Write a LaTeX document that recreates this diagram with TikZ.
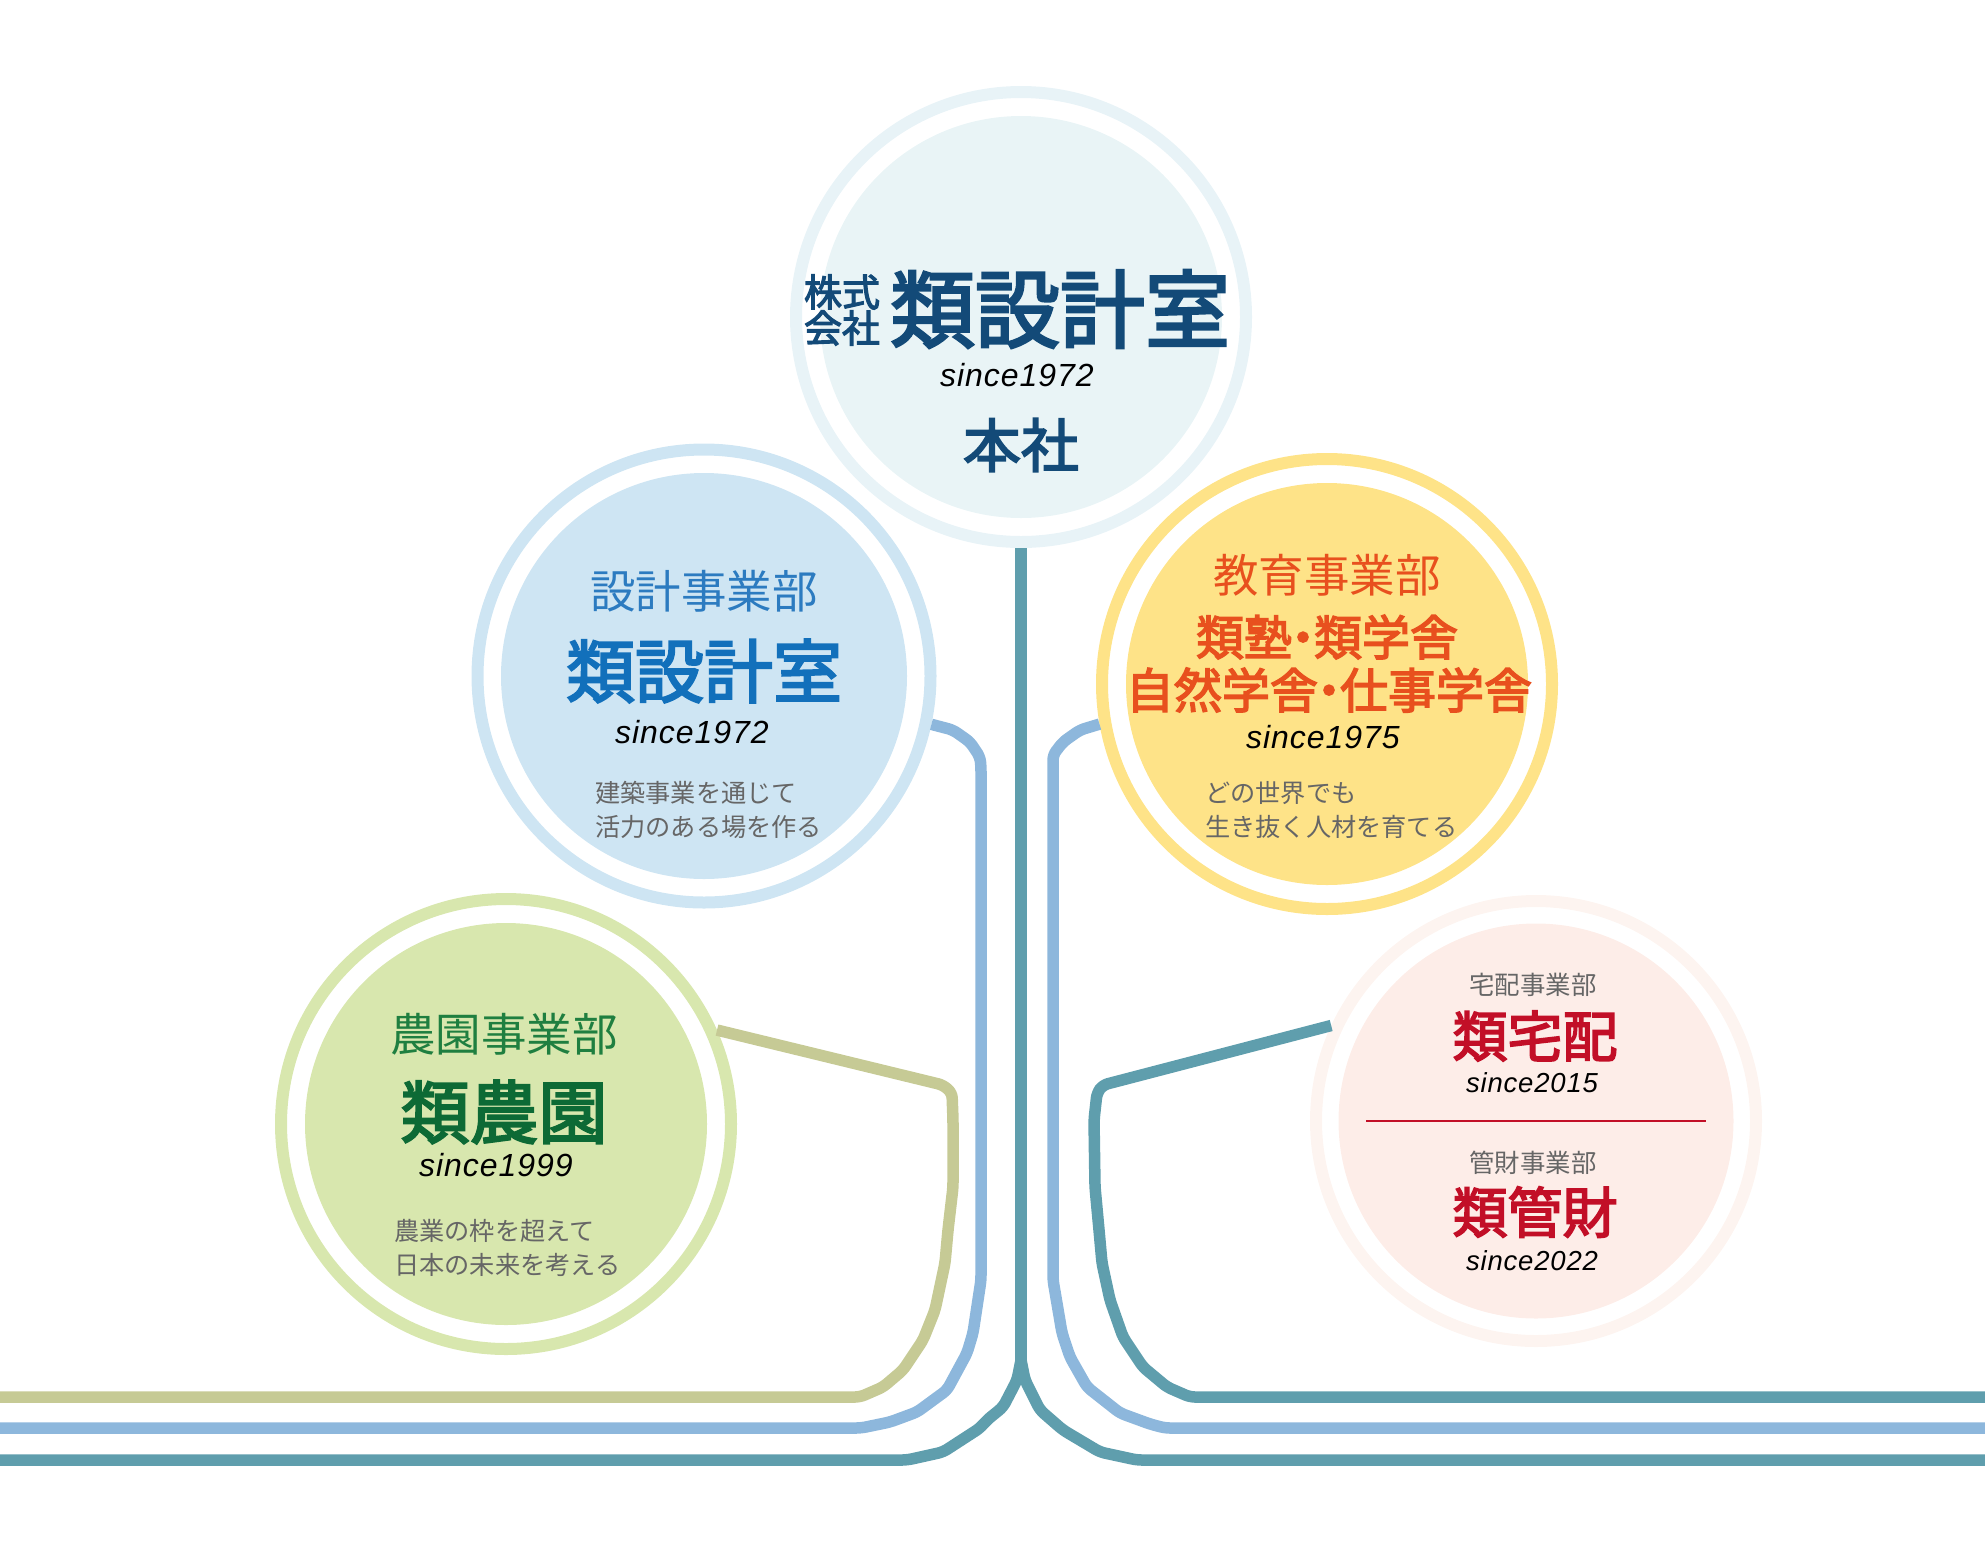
\documentclass[tikz,border=0pt]{standalone}
\usepackage{fontspec}
\setmainfont{Noto Sans CJK JP}
\newfontfamily\titlefont[FakeBold=3]{Noto Sans CJK JP}
\newfontfamily\latinfont[LetterSpace=3]{Liberation Sans}

\definecolor{tealline}{HTML}{5F9EAD}
\definecolor{blueline}{HTML}{8DB7DC}
\definecolor{oliveline}{HTML}{C6CA95}
\definecolor{hqring}{HTML}{E8F3F7}
\definecolor{hqfill}{HTML}{E9F4F6}
\definecolor{hqtext}{HTML}{134A78}
\definecolor{designfill}{HTML}{CEE5F3}
\definecolor{designlabel}{HTML}{2C7BC0}
\definecolor{designtext}{HTML}{1270BB}
\definecolor{edufill}{HTML}{FEE388}
\definecolor{edutext}{HTML}{E8501E}
\definecolor{agrifill}{HTML}{D8E7AE}
\definecolor{agrilabel}{HTML}{1F7F40}
\definecolor{agritext}{HTML}{0D6A35}
\definecolor{deliveryring}{HTML}{FDF4F0}
\definecolor{deliveryfill}{HTML}{FDEDE8}
\definecolor{deliverytext}{HTML}{C20F27}
\definecolor{greytext}{HTML}{666666}

\newcommand{\fsize}[1]{\fontsize{#1}{#1}\selectfont}
\newcommand{\ndot}{\hspace{-.27em}・\hspace{-.27em}}

\tikzset{
    ring/.style={circle,draw=#1,line width=12pt,minimum size=450pt,inner sep=0pt},
    disc/.style={circle,fill=#1,minimum size=402pt,inner sep=0pt},
    link/.style={line width=11.5pt,rounded corners=5pt,draw=#1},
    since/.style={inner sep=0pt,font=\latinfont\itshape\fsize{#1}},
    deptname/.style={inner sep=0pt,font=\fsize{45.5},text=#1},
    brandname/.style={inner sep=0pt,font=\titlefont\fsize{69},text=#1},
    note/.style={inner sep=0pt,anchor=west,font=\fsize{25.2},text=greytext},
    smallname/.style={inner sep=0pt,font=\fsize{25.4},text=greytext},
    smallbrand/.style={inner sep=0pt,font=\titlefont\fsize{55},text=deliverytext}
}

\begin{document}
\begin{tikzpicture}[x=1pt,y=-1pt]
    \useasboundingbox (0,0) rectangle (1985,1540);

    % Cerchi esterni
    \node[ring=hqring] (hqring) at (1021,317) {};
    \node[ring=designfill,minimum size=453pt] (designring) at (704,676) {};
    \node[ring=edufill] (eduring) at (1327,684) {};
    \node[ring=agrifill] (agriring) at (506,1124) {};
    \node[ring=deliveryring,minimum size=440pt] (deliveryring) at (1536,1121) {};

    % Estremi liberi delle linee
    \coordinate (fork) at (1021,1360);
    \coordinate (tealleft) at (0,1460);
    \coordinate (tealright) at (1985,1460);
    \coordinate (blueleft) at (0,1428);
    \coordinate (blueright) at (1985,1428);
    \coordinate (oliveleft) at (0,1397);
    \coordinate (teallow) at (1985,1397);

    % Tronco centrale
    \draw[link=tealline] (fork) -- (1017,1380) -- (1003,1407) -- (987,1420) -- (980,1428) -- (943,1452) -- (907,1460) -- (tealleft);
    \draw[link=tealline] (fork) -- (1025,1380) -- (1040,1410) -- (1063,1430) -- (1100,1452) -- (1137,1460) -- (tealright);
    \draw[link=tealline,line width=12pt] (hqring.south) -- (fork);

    % Linee azzurre
    \draw[link=blueline] (designring.-12) -- (953,730) -- (970,742) -- (980,757) -- (981,767) -- (981,1280) -- (973,1333) -- (967,1353) -- (947,1390) -- (917,1412) -- (890,1422) -- (861,1428) -- (blueleft);
    \draw[link=blueline] (eduring.190.5) -- (1080,730) -- (1063,742) -- (1053,755) -- (1053,767) -- (1053,1280) -- (1062,1333) -- (1070,1357) -- (1087,1387) -- (1120,1413) -- (1150,1424) -- (1165,1428) -- (blueright);

    % Linea oliva
    \draw[link=oliveline] (agriring.24.2) -- (943,1085) -- (952,1093) -- (953,1120) -- (953,1187) -- (948,1230) -- (945,1263) -- (935,1310) -- (923,1340) -- (903,1370) -- (883,1387) -- (860,1397) -- (oliveleft);

    % Linea verso il cerchio rosa
    \draw[link=tealline] (deliveryring.155.4) -- (1103,1085) -- (1097,1093) -- (1094,1120) -- (1095,1187) -- (1099,1230) -- (1102,1263) -- (1110,1300) -- (1123,1337) -- (1143,1367) -- (1167,1387) -- (1190,1397) -- (teallow);

    % Cerchi interni
    \node[disc=hqfill] (hqdisc) at (1021,317) {};
    \node[disc=designfill,minimum size=406pt] (designdisc) at (704,676) {};
    \node[disc=edufill] (edudisc) at (1327,684) {};
    \node[disc=agrifill] (agridisc) at (506,1124) {};
    \node[disc=deliveryfill,minimum size=395pt] (deliverydisc) at (1536,1121) {};

    % Sede centrale
    \node[inner sep=0pt,text=hqtext,font=\titlefont\fsize{38}] (hqform) at (842,292) {株式};
    \node[inner sep=0pt,text=hqtext,font=\titlefont\fsize{38}] (hqformb) at (842,328) {会社};
    \node[inner sep=0pt,text=hqtext,font=\titlefont\fsize{85}] (hqname) at (1060,309) {類設計室};
    \node[since=32,text=black] (hqsince) at (1017,375) {since1972};
    \node[inner sep=0pt,text=hqtext,font=\titlefont\fsize{58}] (hqoffice) at (1021,445) {本社};

    % Progettazione
    \node[deptname=designlabel] (designdept) at (704,591) {設計事業部};
    \node[brandname=designtext] (designname) at (704,671) {類設計室};
    \node[since=32,text=black] (designsince) at (692,732) {since1972};
    \node[note] (designnotea) at (595,793) {建築事業を通じて};
    \node[note] (designnoteb) at (595,827) {活力のある場を作る};

    % Istruzione
    \node[deptname=edutext] (edudept) at (1327,575) {教育事業部};
    \node[inner sep=0pt,text=edutext,font=\titlefont\fsize{48}] (eduname) at (1327,637) {類塾\ndot 類学舎};
    \node[inner sep=0pt,text=edutext,font=\titlefont\fsize{48}] (edunameb) at (1329,690) {自然学舎\ndot 仕事学舎};
    \node[since=32,text=black] (edusince) at (1323,737) {since1975};
    \node[note] (edunotea) at (1205,793) {どの世界でも};
    \node[note] (edunoteb) at (1205,827) {生き抜く人材を育てる};

    % Agricoltura
    \node[deptname=agrilabel] (agridept) at (504,1034) {農園事業部};
    \node[brandname=agritext] (agriname) at (504,1112) {類農園};
    \node[since=32,text=black] (agrisince) at (496,1165) {since1999};
    \node[note] (agrinotea) at (394,1231) {農業の枠を超えて};
    \node[note] (agrinoteb) at (394,1265) {日本の未来を考える};

    % Consegne e gestione
    \node[smallname] (deliverydept) at (1533,985) {宅配事業部};
    \node[smallbrand] (deliveryname) at (1535,1036) {類宅配};
    \node[since=27.5,text=black] (deliverysince) at (1532,1083) {since2015};
    \coordinate (ruleleft) at (1366,1121);
    \coordinate (ruleright) at (1706,1121);
    \draw[deliverytext,line width=1.5pt] (ruleleft) -- (ruleright);
    \node[smallname] (propertydept) at (1533,1163) {管財事業部};
    \node[smallbrand] (propertyname) at (1535,1212) {類管財};
    \node[since=27.5,text=black] (propertysince) at (1532,1261) {since2022};
\end{tikzpicture}
\end{document}
